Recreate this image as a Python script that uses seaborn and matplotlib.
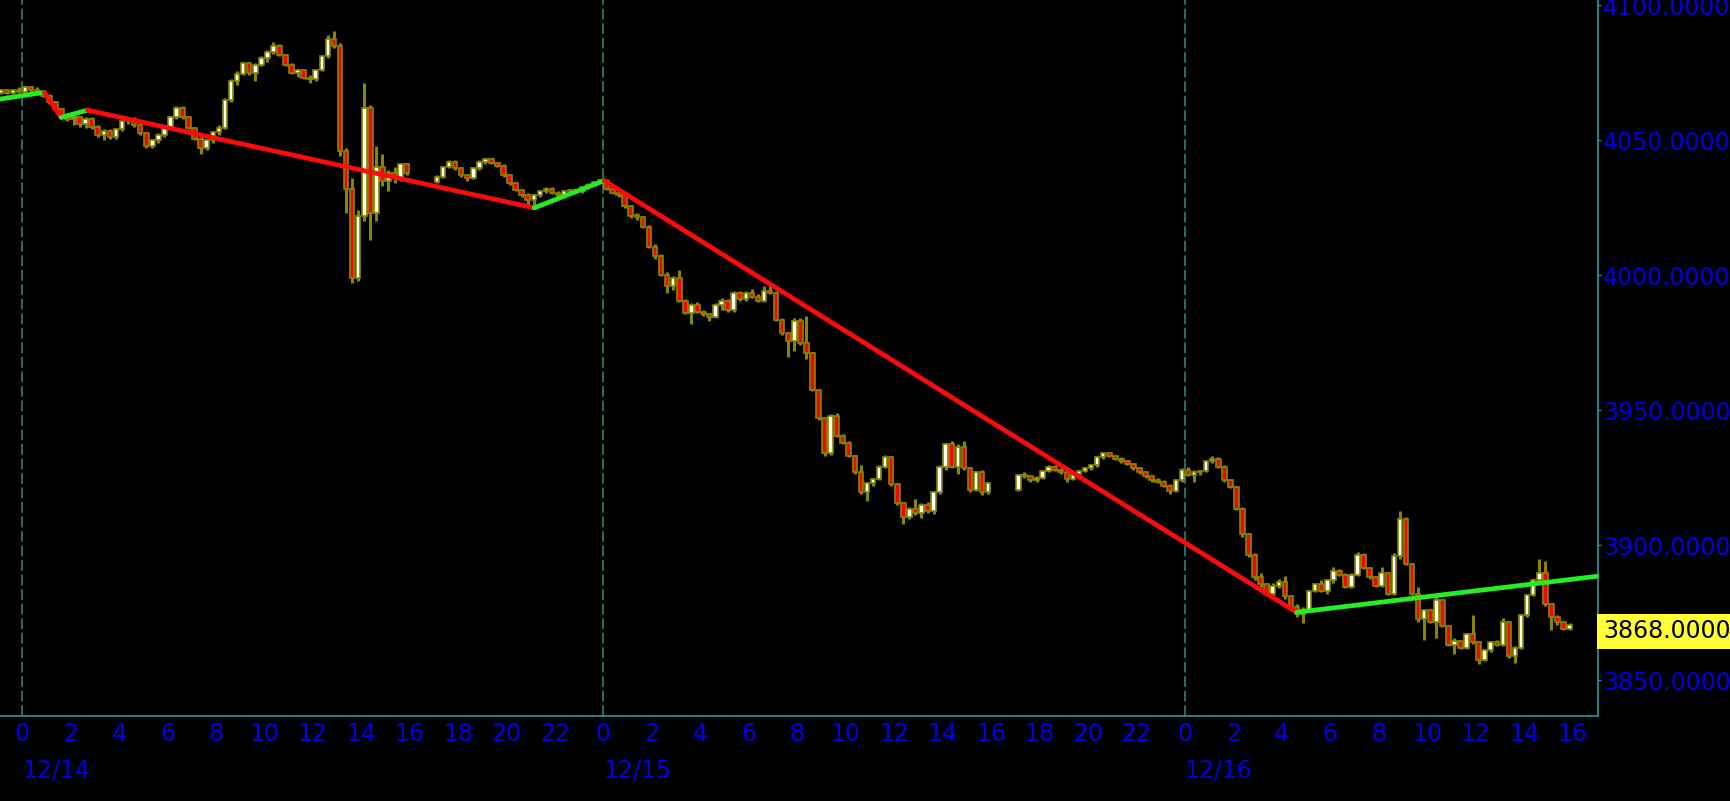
import numpy as np
import pandas as pd
import matplotlib
matplotlib.use("Agg")
import matplotlib.pyplot as plt
import seaborn as sns

# 15 minute bars, three sessions (times in CT)
s1_start = "2022-12-13 23:00"
s1_open = [4067.5, 4068.5, 4067.5, 4068.5, 4068, 4069.5, 4068.5, 4068, 4066.5, 4064, 4061.5, 4059,
           4058, 4058.5, 4056, 4058, 4055, 4052, 4053.5, 4051, 4054, 4057, 4058, 4055.5,
           4052.5, 4048, 4050, 4052, 4054.5, 4058.5, 4062, 4058.5, 4054.5, 4050.5, 4047, 4050,
           4053, 4054.5, 4065, 4072, 4074.5, 4078.5, 4075, 4078, 4080.5, 4082.5, 4085, 4081.5,
           4078, 4075, 4076, 4073, 4072.5, 4076, 4081, 4087.5, 4085, 4046, 4032, 3999,
           4022, 4062, 4023, 4040, 4035, 4038, 4036, 4041]
s1_high = [4069, 4069, 4069, 4069.5, 4070, 4070, 4069.5, 4068.5, 4067, 4064.5, 4062, 4060,
           4059.5, 4059, 4058.5, 4058.5, 4055.5, 4054, 4054, 4054.5, 4057.5, 4058.5, 4058.5, 4056,
           4053, 4050.5, 4052.5, 4055, 4059, 4062.5, 4062.5, 4059, 4055, 4051, 4050.5, 4053.5,
           4055.5, 4065.5, 4072.5, 4075.5, 4079, 4079, 4078.5, 4081, 4083.5, 4086.5, 4085.5, 4082,
           4078.5, 4076.5, 4076.5, 4074, 4076.5, 4081.5, 4089, 4090.5, 4086, 4047, 4036, 4024,
           4071, 4063, 4048, 4045, 4039, 4040, 4041.5, 4041.5]
s1_low = [4067, 4067, 4067, 4067.5, 4067.5, 4068, 4067.5, 4066, 4063.5, 4061, 4058.5, 4057,
          4055.5, 4055, 4054.5, 4054, 4051, 4050, 4050.5, 4050.5, 4053.5, 4056, 4055, 4052,
          4047, 4047, 4049, 4051, 4054, 4058, 4058, 4054, 4050, 4045, 4046.5, 4049,
          4052, 4054, 4064, 4070.5, 4074, 4074, 4072, 4077.5, 4079, 4082, 4081, 4077.5,
          4074.5, 4073.5, 4072.5, 4071, 4072, 4075.5, 4080.5, 4084, 4044, 4023, 3997, 3998,
          4020, 4013, 4020, 4033, 4031, 4034, 4035, 4037]
s1_close = [4068.5, 4067.5, 4068.5, 4068, 4069.5, 4068.5, 4068, 4066.5, 4064, 4061.5, 4059, 4058,
            4058.5, 4056, 4058, 4055, 4052, 4053.5, 4051, 4054, 4057, 4058, 4055.5, 4052.5,
            4048, 4050, 4052, 4054.5, 4058.5, 4062, 4058.5, 4054.5, 4050.5, 4047, 4050, 4053,
            4054.5, 4065, 4072, 4074.5, 4078.5, 4075, 4078, 4080.5, 4082.5, 4085, 4081.5, 4078,
            4075, 4076, 4073, 4072.5, 4076, 4081, 4087.5, 4085, 4046, 4032, 3999, 4022,
            4062, 4023, 4040, 4035, 4038, 4036, 4041, 4038]

s2_start = "2022-12-14 17:00"
s2_open = [4034.5, 4036.5, 4040, 4042, 4039.5, 4037, 4036, 4039.5, 4042, 4043, 4041.5, 4040.5,
           4037, 4034, 4031.5, 4029.5, 4028, 4029.5, 4031, 4032, 4030.5, 4029.5, 4031, 4031.5,
           4031, 4032.5, 4033.5, 4034.5,
           4035, 4032, 4030.5, 4029.5, 4025.5, 4022, 4021.5, 4018, 4010.5, 4007, 4000, 3996,
           3999, 3990.5, 3986, 3989, 3986.5, 3985.5, 3984.5, 3989, 3990.5, 3987, 3993.5, 3991,
           3993.5, 3992, 3990.5, 3994, 3993.5, 3983.5, 3978.5, 3975.5, 3983, 3975, 3971, 3957.5,
           3947, 3934, 3948, 3940.5, 3938, 3933, 3927, 3919.5, 3923, 3924.5, 3929, 3932.5,
           3922.5, 3915.5, 3910.5, 3913.5, 3912, 3915, 3912.5, 3919.5, 3929, 3937.5, 3929, 3936.5,
           3928.5, 3920.5, 3927, 3919.5]
s2_high = [4037, 4040.5, 4042.5, 4042.5, 4040, 4037.5, 4040, 4042.5, 4043.5, 4043.5, 4042, 4041,
           4037.5, 4034.5, 4032, 4030.5, 4030, 4031.5, 4032.5, 4032.5, 4031, 4031.5, 4032, 4032,
           4033, 4034, 4035, 4035.5,
           4035.5, 4032.5, 4031, 4030, 4026, 4023, 4022, 4018.5, 4011.5, 4008, 4001, 3999.5,
           4002, 3991, 3989.5, 3990, 3987, 3986, 3989.5, 3991.5, 3991, 3994, 3994, 3994,
           3995, 3993, 3996, 3996.5, 3994, 3984, 3979, 3984, 3984, 3985, 3971.5, 3958,
           3947.5, 3948.5, 3949, 3941, 3938.5, 3933.5, 3929.5, 3923.5, 3925, 3929.5, 3933.5, 3933,
           3923, 3916, 3914, 3917, 3915.5, 3916, 3920, 3929.5, 3938, 3938.5, 3937.5, 3938.5,
           3929, 3927.5, 3928, 3923.5]
s2_low = [4034, 4036, 4039.5, 4039, 4036.5, 4035, 4035.5, 4039, 4041, 4041, 4040, 4036.5,
          4033.5, 4031, 4029, 4025.5, 4025, 4029, 4030.5, 4030, 4029, 4029, 4030, 4030.5,
          4030.5, 4032, 4033, 4034,
          4031.5, 4030, 4029, 4025, 4021, 4020.5, 4017.5, 4010, 4006, 3999.5, 3993.5, 3994.5,
          3990, 3985.5, 3982, 3986, 3985, 3983, 3984, 3987, 3986.5, 3986.5, 3990.5, 3990.5,
          3991.5, 3990, 3990, 3993, 3983, 3978, 3969.5, 3972, 3974, 3969, 3957, 3946.5,
          3933, 3933.5, 3940, 3937.5, 3932.5, 3926.5, 3919, 3916.5, 3922, 3924, 3928.5, 3922,
          3915, 3908, 3909.5, 3911, 3910, 3912, 3911.5, 3919, 3928, 3928.5, 3926.5, 3928,
          3919.5, 3920, 3918.5, 3919]
s2_close = [4036.5, 4040, 4042, 4039.5, 4037, 4036, 4039.5, 4042, 4043, 4041.5, 4040.5, 4037,
            4034, 4031.5, 4029.5, 4028, 4029.5, 4031, 4032, 4030.5, 4029.5, 4031, 4031.5, 4031,
            4032.5, 4033.5, 4034.5, 4035,
            4032, 4030.5, 4029.5, 4025.5, 4022, 4021.5, 4018, 4010.5, 4007, 4000, 3996, 3999,
            3990.5, 3986, 3989, 3986.5, 3985.5, 3984.5, 3989, 3990.5, 3987, 3993.5, 3991, 3993.5,
            3992, 3990.5, 3994, 3993.5, 3983.5, 3978.5, 3975.5, 3983, 3975, 3971, 3957.5, 3947,
            3934, 3948, 3940.5, 3938, 3933, 3927, 3919.5, 3923, 3924.5, 3929, 3932.5, 3922.5,
            3915.5, 3910.5, 3913.5, 3912, 3915, 3912.5, 3919.5, 3929, 3937.5, 3929, 3936.5, 3928.5,
            3920.5, 3927, 3919.5, 3923]

s3_start = "2022-12-15 17:00"
s3_open = [3920.5, 3926, 3925.5, 3924, 3925, 3927.5, 3929, 3928, 3927, 3924.5, 3926.5, 3927.5,
           3928.5, 3929.5, 3932.5, 3934, 3933, 3932, 3931, 3930, 3928.5, 3927, 3925.5, 3924,
           3923.5, 3922, 3920, 3924,
           3928, 3926, 3927, 3927.5, 3931, 3932, 3929, 3924, 3921.5, 3913.5, 3904, 3896.5,
           3888, 3885.5, 3882, 3885, 3886.5, 3881, 3877, 3874.5, 3876, 3883, 3885.5, 3883,
           3887, 3890.5, 3889, 3884.5, 3889, 3896.5, 3891.5, 3888, 3885, 3889.5, 3882, 3896,
           3909.5, 3893, 3882, 3872.5, 3876, 3871.5, 3879.5, 3870, 3863, 3864.5, 3862, 3867,
           3864, 3857.5, 3861, 3864, 3863, 3871.5, 3859, 3862, 3874, 3881.5, 3887, 3889.5,
           3878, 3873.5, 3871.5, 3869]
s3_high = [3926.5, 3927, 3926, 3925.5, 3928, 3929.5, 3929.5, 3928.5, 3927.5, 3927, 3928, 3929,
           3930, 3933, 3934.5, 3934.5, 3933.5, 3932.5, 3931.5, 3930.5, 3929, 3927.5, 3926, 3925,
           3924, 3922.5, 3924.5, 3928.5,
           3929, 3928, 3928, 3931.5, 3933, 3932.5, 3929.5, 3924.5, 3922, 3914, 3904.5, 3897,
           3889.5, 3886, 3886, 3887.5, 3888.5, 3881.5, 3878, 3877, 3883.5, 3886, 3887, 3887.5,
           3892, 3891, 3889.5, 3889.5, 3897.5, 3897, 3892, 3888.5, 3892, 3890, 3897, 3912.5,
           3910.5, 3893.5, 3884.5, 3876.5, 3876.5, 3881, 3880, 3870.5, 3865.5, 3865, 3867.5, 3874,
           3864.5, 3861.5, 3864.5, 3865, 3873, 3872, 3862.5, 3874.5, 3882, 3887.5, 3895, 3894,
           3878.5, 3874, 3872, 3871]
s3_low = [3920, 3925, 3923.5, 3923.5, 3924.5, 3927, 3927.5, 3926.5, 3923.5, 3924, 3926, 3927,
          3928, 3929, 3932, 3932.5, 3931.5, 3930.5, 3929.5, 3928, 3926.5, 3925, 3923.5, 3923,
          3921.5, 3919, 3919.5, 3923.5,
          3925.5, 3923.5, 3926, 3927, 3930.5, 3928.5, 3923.5, 3921, 3913, 3903, 3895.5, 3887,
          3884.5, 3881.5, 3880.5, 3884, 3880, 3876.5, 3873.5, 3871, 3875.5, 3882.5, 3882.5, 3882,
          3886, 3888.5, 3884, 3884, 3888.5, 3891, 3887.5, 3884.5, 3884.5, 3881.5, 3881.5, 3895,
          3892.5, 3881.5, 3871.5, 3865, 3871, 3865.5, 3869.5, 3862.5, 3859.5, 3861.5, 3861.5, 3863.5,
          3856, 3857, 3860.5, 3862.5, 3862.5, 3858, 3856.5, 3861.5, 3873.5, 3881, 3886.5, 3877.5,
          3868.5, 3870.5, 3868.5, 3868.5]
s3_close = [3926, 3925.5, 3924, 3925, 3927.5, 3929, 3928, 3927, 3924.5, 3926.5, 3927.5, 3928.5,
            3929.5, 3932.5, 3934, 3933, 3932, 3931, 3930, 3928.5, 3927, 3925.5, 3924, 3923.5,
            3922, 3920, 3924, 3928,
            3926, 3927, 3927.5, 3931, 3932, 3929, 3924, 3921.5, 3913.5, 3904, 3896.5, 3888,
            3885.5, 3882, 3885, 3886.5, 3881, 3877, 3874.5, 3876, 3883, 3885.5, 3883, 3887,
            3890.5, 3889, 3884.5, 3889, 3896.5, 3891.5, 3888, 3885, 3889.5, 3882, 3896, 3909.5,
            3893, 3882, 3872.5, 3876, 3871.5, 3879.5, 3870, 3863, 3864.5, 3862, 3867, 3864,
            3857.5, 3861, 3864, 3863, 3871.5, 3859, 3862, 3874, 3881.5, 3887, 3889.5, 3878,
            3873.5, 3871.5, 3869, 3870.5]

# zigzag pivots: hours from 12/14 00:00 and price
zig_hours = [-0.91, 0.92, 1.61, 2.70, 21.14, 24.03, 52.61, 65.05]
zig_price = [4065.2, 4067.7, 4058.4, 4061.1, 4024.9, 4035.0, 3875.1, 3888.5]

last_price = 3868.0
day_labels = ["12/14", "12/15", "12/16"]
y_ticks = [3850, 3900, 3950, 4000, 4050, 4100]

teal = "#2e8b8b"
blue = "#0000e6"
olive = "#868600"

origin = pd.Timestamp("2022-12-14 00:00")
frames = []
for start, o, h, l, c in [(s1_start, s1_open, s1_high, s1_low, s1_close),
                          (s2_start, s2_open, s2_high, s2_low, s2_close),
                          (s3_start, s3_open, s3_high, s3_low, s3_close)]:
    ts = pd.date_range(start, periods=len(o), freq="15min")
    frames.append(pd.DataFrame({"time": ts, "open": o, "high": h, "low": l, "close": c}))
df = pd.concat(frames, ignore_index=True)
df["hour"] = (df["time"] - origin) / pd.Timedelta(hours=1) + 0.125
df["up"] = df["close"] >= df["open"]
df["body_lo"] = df[["open", "close"]].min(axis=1)
df["body_h"] = (df["close"] - df["open"]).abs().clip(lower=0.6)

sns.set_style("dark", {"axes.facecolor": "black", "figure.facecolor": "black",
                       "axes.edgecolor": teal, "grid.color": "black"})
plt.rcParams["font.family"] = ["DejaVu Sans"]

fig = plt.figure(figsize=(17.3, 8.01), dpi=100)
ax = fig.add_axes([0, 1 - 716 / 801, 1598 / 1730, 716 / 801])
ax.set_facecolor("black")
ax.grid(False)

# day separators
for d in range(3):
    ax.axvline(d * 24, color=teal, lw=1.1, ls=(0, (7, 2.5)), zorder=1)

# candles
ax.vlines(df["hour"], df["low"], df["high"], color=olive, lw=2.2, zorder=2)
up = df[df["up"]]
dn = df[~df["up"]]
ax.bar(up["hour"], up["body_h"], bottom=up["body_lo"], width=0.19, color="#fffff4",
       edgecolor=olive, linewidth=1.2, zorder=3)
ax.bar(dn["hour"], dn["body_h"], bottom=dn["body_lo"], width=0.19, color="#ff0000",
       edgecolor=olive, linewidth=1.2, zorder=3)

# zigzag trend lines
for i in range(len(zig_hours) - 1):
    col = "#22f022" if zig_price[i + 1] > zig_price[i] else "#ff0a0a"
    sns.lineplot(x=zig_hours[i:i + 2], y=zig_price[i:i + 2], color=col, lw=3.4,
                 ax=ax, sort=False, zorder=5)

ax.set_xlim(-0.91, 65.05)
ax.set_ylim(3836.7, 4101.9)

hours = list(range(0, 65))
ax.set_xticks(hours)
ax.set_xticklabels([str(h % 24) if h % 2 == 0 else "" for h in hours])
ax.set_yticks(y_ticks)
ax.set_yticklabels([f"{v:.4f}" for v in y_ticks])
ax.yaxis.tick_right()
ax.tick_params(axis="x", direction="out", length=3, width=1, color=teal,
               labelcolor=blue, labelsize=17, pad=1)
ax.tick_params(axis="y", direction="out", length=2.5, width=1, color=teal,
               labelcolor=blue, labelsize=17, pad=1, left=False, right=True,
               labelleft=False, labelright=True)
ax.set_xlabel("")
ax.set_ylabel("")

for side in ["top", "left"]:
    ax.spines[side].set_visible(False)
for side in ["right", "bottom"]:
    ax.spines[side].set_color(teal)
    ax.spines[side].set_linewidth(1.3)

for d, lab in enumerate(day_labels):
    ax.annotate(lab, xy=(d * 24, 0), xycoords=("data", "axes fraction"),
                xytext=(0, -44.5), textcoords="offset points", ha="left",
                va="baseline", color=blue, fontsize=17, annotation_clip=False)

ax.annotate(f"{last_price:.4f}", xy=(1.0, last_price), xycoords=("axes fraction", "data"),
            xytext=(3.5, 0), textcoords="offset points", ha="left", va="center",
            color="black", fontsize=17, annotation_clip=False,
            bbox=dict(boxstyle="square,pad=0.25", fc="#ffff33", ec="none"))

fig.savefig("out.png", dpi=100, facecolor="black")
